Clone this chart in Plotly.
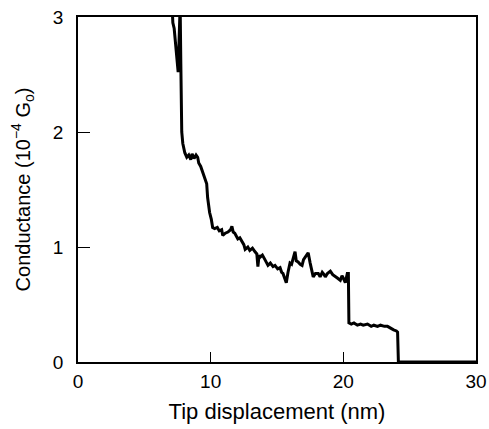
import plotly.graph_objects as go

# tip displacement (nm) and conductance (1e-4 G0)
disp = [7.05, 7.15, 7.25, 7.35, 7.45, 7.55, 7.62, 7.70, 7.75, 7.78, 7.82, 7.90, 8.00,
        8.05, 8.20, 8.35, 8.50, 8.60, 8.75, 8.90, 9.02, 9.10, 9.25, 9.39, 9.50, 9.60,
        9.70, 9.77, 9.85, 9.92, 10.05, 10.15, 10.30, 10.50, 10.65, 10.83, 10.91, 11.10,
        11.30, 11.50, 11.60, 11.70, 11.82, 12.05, 12.20, 12.35, 12.50, 12.60, 12.80,
        12.95, 13.15, 13.33, 13.48, 13.56, 13.65, 13.71, 13.90, 14.09, 14.20, 14.32,
        14.50, 14.70, 14.85, 15.05, 15.23, 15.35, 15.45, 15.60, 15.70, 15.83, 15.98,
        16.10, 16.25, 16.36, 16.45, 16.59, 16.75, 16.89, 17.00, 17.12, 17.25, 17.35,
        17.50, 17.60, 17.73, 17.90, 18.11, 18.25, 18.41, 18.55, 18.64, 18.80, 19.02,
        19.20, 19.39, 19.55, 19.77, 19.90, 20.00, 20.15, 20.30, 20.38, 20.42, 20.60,
        20.80, 21.06, 21.30, 21.50, 21.82, 22.10, 22.30, 22.58, 22.80, 23.10, 23.33,
        23.60, 23.79, 24.00, 24.09, 24.15, 30.0]
cond = [3.20, 2.95, 2.90, 2.75, 2.65, 2.52, 2.80, 3.10, 2.60, 2.20, 2.00, 1.90, 1.83,
        1.82, 1.78, 1.80, 1.76, 1.81, 1.77, 1.80, 1.78, 1.73, 1.70, 1.65, 1.61, 1.58,
        1.55, 1.43, 1.36, 1.30, 1.24, 1.17, 1.16, 1.17, 1.14, 1.15, 1.10, 1.12,
        1.13, 1.15, 1.18, 1.13, 1.12, 1.07, 1.08, 1.05, 1.02, 0.98, 1.00,
        0.97, 0.99, 0.96, 0.94, 0.83, 0.93, 0.91, 0.93, 0.89, 0.86, 0.84,
        0.86, 0.83, 0.84, 0.81, 0.82, 0.78, 0.77, 0.73, 0.69, 0.78, 0.86,
        0.85, 0.93, 0.96, 0.88, 0.87, 0.85, 0.84, 0.89, 0.91, 0.93, 0.95,
        0.86, 0.80, 0.74, 0.77, 0.77, 0.74, 0.78, 0.76, 0.74, 0.77, 0.79,
        0.76, 0.74, 0.73, 0.71, 0.75, 0.73, 0.69, 0.77, 0.77, 0.34, 0.33,
        0.34, 0.32, 0.33, 0.32, 0.33, 0.31, 0.32, 0.31, 0.32, 0.31, 0.31,
        0.29, 0.28, 0.27, 0.26, 0.0, 0.0]

fnt = "Liberation Sans, Arial, sans-serif"

fig = go.Figure(go.Scatter(x=disp, y=cond, mode="lines",
                           line=dict(color="black", width=3), showlegend=False))

fig.update_layout(
    width=489, height=429,
    margin=dict(l=78, r=13, t=17, b=67),
    plot_bgcolor="white", paper_bgcolor="white",
    font=dict(family=fnt, size=19, color="black"),
)
fig.update_xaxes(range=[0, 30], tickvals=[0, 10, 20, 30], ticks="inside", ticklen=10,
                 tickcolor="black", tickwidth=1, showgrid=False, zeroline=False,
                 showline=True, linecolor="black", linewidth=1.5, mirror=True,
                 automargin=False, ticklabelstandoff=1,
                 title=dict(text="Tip displacement (nm)", font=dict(size=22), standoff=13))
fig.update_yaxes(range=[0, 3], tickvals=[0, 1, 2, 3], ticks="inside", ticklen=12,
                 tickcolor="black", tickwidth=1, showgrid=False, zeroline=False,
                 showline=True, linecolor="black", linewidth=1.5, mirror=True,
                 automargin=False, ticklabelstandoff=9,
                 title=dict(text="Conductance (10<sup>−4</sup> G<sub>o</sub>)",
                            font=dict(size=20), standoff=17))

# drop the default body margin so the figure sits at the window's corner
fig.write_html("out.html", config={"displayModeBar": False},
               post_script="document.body.style.margin='0';document.body.style.overflow='hidden';")
